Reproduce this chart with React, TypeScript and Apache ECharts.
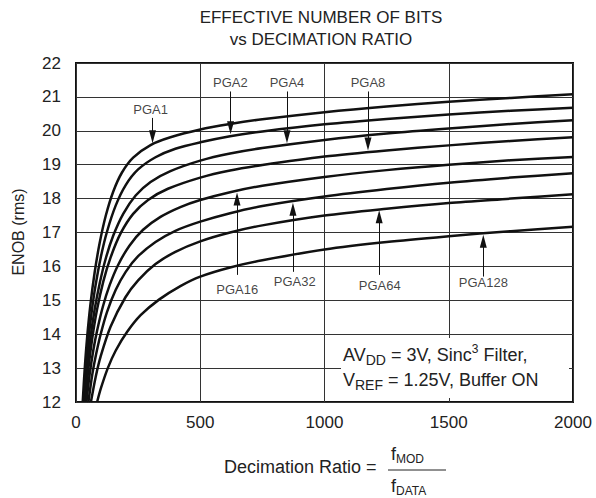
import React, { useEffect, useRef } from "react";
import * as echarts from "echarts";

const FONT = '"Liberation Sans", Arial, Helvetica, sans-serif';
const INK = "#111";

const titleLines = ["EFFECTIVE NUMBER OF BITS", "vs DECIMATION RATIO"];
const yAxisName = "ENOB (rms)";
const xAxisNameText = "Decimation Ratio =";
const xMin = 0;
const xMax = 2000;
const xInterval = 500;
const yMin = 12;
const yMax = 22;
const yInterval = 1;

const seriesNames = ["PGA1", "PGA2", "PGA4", "PGA8", "PGA16", "PGA32", "PGA64", "PGA128"];

const pga1: [number, number][] = [
  [27, 12], [35, 12.97], [45, 13.92], [58, 14.87], [75, 15.82], [95, 16.68], [120, 17.5],
  [150, 18.21], [185, 18.77], [230, 19.21], [300, 19.58], [380, 19.81], [500, 20.04],
  [620, 20.2], [750, 20.34], [1000, 20.55], [1250, 20.72], [1500, 20.86], [1750, 20.97], [2000, 21.08],
];
const pga2: [number, number][] = [
  [30, 12], [40, 13.03], [50, 13.83], [62, 14.6], [78, 15.41], [100, 16.28], [125, 17.03],
  [160, 17.8], [200, 18.4], [250, 18.86], [320, 19.22], [400, 19.47], [500, 19.66],
  [620, 19.84], [750, 19.98], [1000, 20.19], [1250, 20.35], [1500, 20.48], [1750, 20.59], [2000, 20.68],
];
const pga4: [number, number][] = [
  [33, 12], [45, 13.03], [58, 13.88], [75, 14.73], [95, 15.49], [120, 16.24], [150, 16.91],
  [190, 17.55], [240, 18.09], [300, 18.49], [380, 18.81], [500, 19.12], [620, 19.33],
  [750, 19.49], [1000, 19.73], [1250, 19.92], [1500, 20.07], [1750, 20.2], [2000, 20.31],
];
const pga8: [number, number][] = [
  [37, 12], [50, 13.0], [65, 13.86], [85, 14.74], [110, 15.56], [140, 16.28], [180, 16.98],
  [230, 17.55], [290, 17.96], [370, 18.29], [500, 18.62], [620, 18.83], [750, 18.99],
  [1000, 19.24], [1250, 19.42], [1500, 19.57], [1750, 19.7], [2000, 19.81],
];
const pga16: [number, number][] = [
  [42, 12], [55, 12.82], [70, 13.54], [85, 14.11], [108, 14.81], [135, 15.44], [170, 16.05],
  [215, 16.61], [270, 17.08], [340, 17.46], [420, 17.75], [500, 17.96], [620, 18.19],
  [750, 18.38], [1000, 18.64], [1250, 18.84], [1500, 19.0], [1750, 19.13], [2000, 19.23],
];
const pga32: [number, number][] = [
  [50, 12], [65, 12.79], [80, 13.38], [100, 14.02], [125, 14.66], [160, 15.31], [200, 15.84],
  [250, 16.3], [320, 16.72], [400, 17.05], [500, 17.32], [620, 17.57], [750, 17.78],
  [1000, 18.06], [1250, 18.28], [1500, 18.47], [1750, 18.62], [2000, 18.75],
];
const pga64: [number, number][] = [
  [60, 12], [80, 12.77], [99, 13.34], [139, 14.22], [199, 15.09], [250, 15.59], [320, 16.07],
  [400, 16.43], [500, 16.74], [620, 17.0], [750, 17.21], [1000, 17.5], [1250, 17.7],
  [1500, 17.87], [1750, 18.0], [2000, 18.13],
];
const pga128: [number, number][] = [
  [85, 12], [100, 12.4], [128, 13.0], [160, 13.52], [206, 14.07], [260, 14.56], [334, 15.02],
  [420, 15.42], [500, 15.7], [620, 15.97], [750, 16.18], [1000, 16.5], [1250, 16.72],
  [1500, 16.89], [1750, 17.04], [2000, 17.17],
];
const seriesData = [pga1, pga2, pga4, pga8, pga16, pga32, pga64, pga128];

// label anchor (data coords) and arrow from y0 to tip y1 at x
const labelX = [300, 621, 849, 1175, 649, 880, 1222, 1639];
const labelY = [20.62, 21.42, 21.42, 21.42, 15.32, 15.55, 15.45, 15.52];
const arrowX = [308, 622, 849, 1175, 648, 873, 1220, 1639];
const arrowFrom = [20.38, 21.16, 21.16, 21.16, 15.75, 15.84, 15.75, 15.7];
const arrowTip = [19.63, 19.9, 19.63, 19.42, 18.18, 17.88, 17.66, 16.93];

const noteLine1 = "{n|AV}{sub|DD}{n| = 3V, Sinc}{sup|3}{n| Filter,}";
const noteLine2 = "{n|V}{sub|REF}{n| = 1.25V, Buffer ON}";

export default function App() {
  const ref = useRef<HTMLDivElement | null>(null);

  useEffect(() => {
    if (!ref.current) return;
    const chart = echarts.init(ref.current, undefined, { renderer: "svg" });

    const curveSeries = seriesData.map((d, i) => ({
      name: seriesNames[i],
      type: "line",
      data: d,
      showSymbol: false,
      symbol: "none",
      smooth: 0.3,
      lineStyle: { color: INK, width: 2.5 },
      silent: true,
      clip: true,
      z: 3,
    }));

    const arrowLen = 13 / 33.9 / 2; // half arrow head in data units
    const arrowSeries = {
      name: "arrows",
      type: "line",
      data: [],
      silent: true,
      z: 4,
      markLine: {
        silent: true,
        symbol: ["none", "triangle"],
        symbolSize: [7, 13],
        label: { show: false },
        lineStyle: { color: INK, width: 1, type: "solid" },
        emphasis: { disabled: true },
        data: arrowX.map((x, i) => {
          const dir = arrowTip[i] > arrowFrom[i] ? 1 : -1;
          return [
            { coord: [x, arrowFrom[i]] },
            { coord: [x, arrowTip[i] - dir * arrowLen] },
          ];
        }),
      },
    };

    const labelSeries = {
      name: "labels",
      type: "scatter",
      symbolSize: 0,
      silent: true,
      z: 5,
      data: labelX.map((x, i) => ({ value: [x, labelY[i]], name: seriesNames[i] })),
      label: {
        show: true,
        position: "inside",
        formatter: "{b}",
        color: INK,
        fontFamily: FONT,
        fontSize: 13,
      },
    };

    chart.setOption({
      animation: false,
      backgroundColor: "#fff",
      grid: {
        left: 76,
        right: 23,
        top: 63,
        bottom: 96,
        show: true,
        borderColor: INK,
        borderWidth: 2,
        backgroundColor: "transparent",
        containLabel: false,
      },
      xAxis: {
        type: "value",
        min: xMin,
        max: xMax,
        interval: xInterval,
        axisLine: { show: false },
        axisTick: { show: false },
        splitLine: { show: true, lineStyle: { color: "#333", width: 1 } },
        axisLabel: {
          color: "#222",
          fontFamily: FONT,
          fontSize: 17,
          margin: 12,
          formatter: (v: number) => String(v),
        },
      },
      yAxis: {
        type: "value",
        min: yMin,
        max: yMax,
        interval: yInterval,
        axisLine: { show: false },
        axisTick: { show: false },
        splitLine: { show: true, lineStyle: { color: "#333", width: 1 } },
        axisLabel: {
          color: "#222",
          fontFamily: FONT,
          fontSize: 17,
          margin: 15,
          formatter: (v: number) => String(v),
        },
      },
      series: [...curveSeries, arrowSeries, labelSeries],
      graphic: [
        {
          type: "text",
          x: 321,
          y: 17,
          style: { text: titleLines[0], font: `17px ${FONT}`, fill: "#222", align: "center", verticalAlign: "middle" },
        },
        {
          type: "text",
          x: 321,
          y: 39,
          style: { text: titleLines[1], font: `17px ${FONT}`, fill: "#222", align: "center", verticalAlign: "middle" },
        },
        {
          type: "text",
          x: 18,
          y: 232,
          rotation: Math.PI / 2,
          style: { text: yAxisName, font: `16px ${FONT}`, fill: "#222", align: "center", verticalAlign: "middle" },
        },
        {
          type: "text",
          x: 224,
          y: 467,
          style: { text: xAxisNameText, font: `18px ${FONT}`, fill: "#222", align: "left", verticalAlign: "middle" },
        },
        {
          type: "text",
          x: 391,
          y: 454,
          style: {
            text: "{f|f}{s|MOD}",
            align: "left",
            verticalAlign: "middle",
            rich: {
              f: { fontFamily: FONT, fontSize: 18, fill: "#222", lineHeight: 22 },
              s: { fontFamily: FONT, fontSize: 12, fill: "#222", verticalAlign: "bottom", lineHeight: 22 },
            },
          },
        },
        {
          type: "line",
          shape: { x1: 388, y1: 470, x2: 446, y2: 470 },
          style: { stroke: "#222", lineWidth: 1 },
        },
        {
          type: "text",
          x: 391,
          y: 486,
          style: {
            text: "{f|f}{s|DATA}",
            align: "left",
            verticalAlign: "middle",
            rich: {
              f: { fontFamily: FONT, fontSize: 18, fill: "#222", lineHeight: 22 },
              s: { fontFamily: FONT, fontSize: 12, fill: "#222", verticalAlign: "bottom", lineHeight: 22 },
            },
          },
        },
        {
          type: "rect",
          z: 10,
          shape: { x: 341, y: 338, width: 228, height: 60 },
          style: { fill: "#fff" },
        },
        {
          type: "text",
          z: 11,
          x: 343,
          y: 342,
          style: {
            text: noteLine1 + "\n" + noteLine2,
            align: "left",
            verticalAlign: "top",
            rich: {
              n: { fontFamily: FONT, fontSize: 18, fill: "#222", lineHeight: 25 },
              sub: { fontFamily: FONT, fontSize: 14, fill: "#222", verticalAlign: "bottom", lineHeight: 25 },
              sup: { fontFamily: FONT, fontSize: 12, fill: "#222", verticalAlign: "top", lineHeight: 25, padding: [1, 0, 0, 0] },
            },
          },
        },
      ],
    });

    return () => {
      chart.dispose();
    };
  }, []);

  return (
    <div
      ref={ref}
      style={{ position: "fixed", left: 0, top: 0, width: 596, height: 498, background: "#fff" }}
    />
  );
}
